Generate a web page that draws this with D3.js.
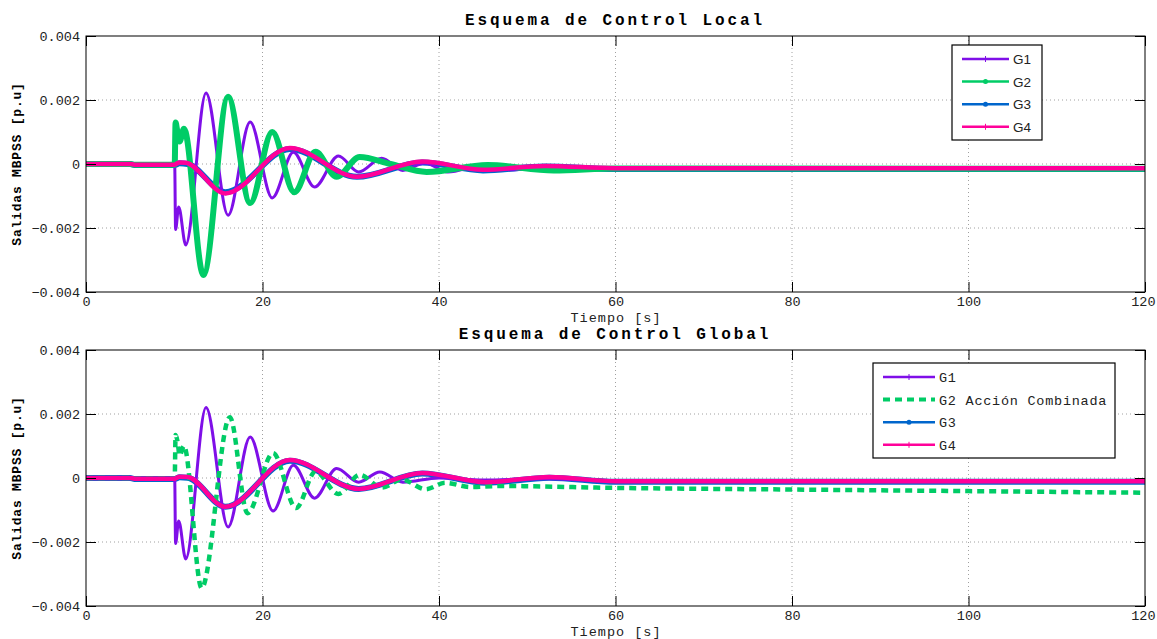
<!DOCTYPE html>
<html>
<head>
<meta charset="utf-8">
<script src="https://d3js.org/d3.v7.min.js"></script>
<style>
  body { margin: 0; background: #fff; }
  svg { display: block; }
</style>
</head>
<body>
<div id="chart"></div>
<script>
// ---- data (time [s], salida [p.u]) ----
var xTicks = [0, 20, 40, 60, 80, 100, 120];
var yTicks = [-0.004, -0.002, 0, 0.002, 0.004];
var yTickLabels = ["\u22120.004", "\u22120.002", "0", "0.002", "0.004"];

var g1Local = [[0,0],[5,0],[5.5,-0.00002],[10.05,-0.00002],[10.15,-0.00205],[10.5,-0.00134],[11.3,-0.00253],
  [13.6,0.00222],[16.1,-0.0016],[18.6,0.00131],[21.1,-0.00106],[23.5,0.00037],[25.9,-0.00072],
  [28.6,0.00025],[30.9,-0.00025],[33.5,0.00018],[35.9,-0.0002],[38.4,0.00003],[41,-0.00025],
  [45,-0.00003],[48,-0.00018],[53,-0.0001],[60,-0.00014],[120,-0.00013]];
var g2Local = [[0,0],[5,0],[5.5,-0.00002],[10.05,-0.00002],[10.15,0.0013],[10.3,0.0011],[10.6,0.0007],[11.1,0.0011],
  [13.3,-0.00347],[16.1,0.0021],[18.6,-0.00122],[21.1,0.001],[23.6,-0.00088],[26.0,0.00038],
  [28.4,-0.0004],[31.0,0.00022],[34.5,0.0],[38.6,-0.00025],[45.5,-0.00003],[53,-0.0002],
  [60,-0.00014],[120,-0.00015]];
var g3Local = [[0,0],[5,0],[5.5,-0.00003],[10,-0.00003],[10.6,0.00002],[11.5,0.0],[15.8,-0.00088],
  [23.1,0.00047],[30.7,-0.0004],[38.1,0.00005],[45,-0.0002],[52,-0.00008],[60,-0.00016],[120,-0.00016]];
var g4Local = [[0,0],[5,0],[5.5,-0.00002],[10,-0.00002],[10.6,0.00005],[11.3,0.00004],[15.8,-0.00092],
  [23.1,0.0005],[30.7,-0.0004],[38.1,0.00008],[45,-0.00018],[52,-0.00006],[60,-0.00013],[120,-0.00013]];

var g1Global = [[0,0],[5,0],[5.5,-0.00002],[10.05,-0.00002],[10.15,-0.00205],[10.5,-0.00134],[11.3,-0.00253],
  [13.6,0.0022],[16.1,-0.00153],[18.6,0.00128],[21.2,-0.00103],[23.5,0.0004],[25.9,-0.00063],
  [28.4,0.0003],[30.9,-0.00013],[33.3,0.00019],[35.9,-0.00013],[40,0.0],[45,-0.00006],
  [52,-0.00002],[60,-0.0001],[120,-0.0001]];
var g2Global = [[0,0],[5,0],[5.5,-0.00002],[10.05,-0.00002],[10.15,0.00134],[10.4,0.0011],[10.6,0.0007],[11.1,0.001],
  [13.1,-0.00344],[16.3,0.0019],[18.3,-0.0011],[21.2,0.00078],[23.8,-0.00094],[26,0.0002],
  [28.6,-0.0005],[31,0.0001],[33.5,-0.0003],[35.8,-0.00005],[38.5,-0.00035],[40.7,-0.00015],
  [43.5,-0.00028],[47,-0.00025],[60,-0.00031],[80,-0.00036],[100,-0.00041],[120,-0.00046]];
var g3Global = [[0,0],[5,0],[5.5,-0.00003],[10,-0.00003],[10.6,0.00002],[11.5,0.00001],[15.8,-0.0009],
  [23.1,0.00054],[30.9,-0.00034],[38.1,0.00014],[45.3,-0.00015],[52.5,0.00001],[60,-0.00012],[120,-0.00012]];
var g4Global = [[0,0],[5,0],[5.5,-0.00002],[10,-0.00002],[10.6,0.00004],[11.5,0.00003],[15.8,-0.0009],
  [23.1,0.00056],[30.9,-0.00034],[38.1,0.00016],[45.3,-0.00013],[52.5,0.00003],[60,-0.0001],[120,-0.0001]];

var colors = { g1: "#7f0fe8", g2: "#00cc66", g3: "#0066cc", g4: "#ff0099" };

var width = 1157, height = 639;
var svg = d3.select("#chart").append("svg")
  .attr("width", width)
  .attr("height", height);

var mono = "'Liberation Mono', 'Courier New', monospace";

function drawPanel(top, bottom, title, series, legendItems, legendBox, legendFont, legendSpacing) {
  var x = d3.scaleLinear().domain([0, 120]).range([86, 1145]);
  var y = d3.scaleLinear().domain([-0.004, 0.004]).range([bottom, top]);
  var g = svg.append("g");
  var clipId = "clip" + top;

  g.append("clipPath").attr("id", clipId)
    .append("rect").attr("x", 86).attr("y", top).attr("width", 1059).attr("height", bottom - top);

  // grid
  g.selectAll(".vgrid").data(xTicks.slice(1, -1)).enter().append("line")
    .attr("x1", function(d){ return x(d); }).attr("x2", function(d){ return x(d); })
    .attr("y1", top).attr("y2", bottom)
    .attr("stroke", "#a0a0a0").attr("stroke-width", 1).attr("stroke-dasharray", "1,3");
  g.selectAll(".hgrid").data(yTicks.slice(1, -1)).enter().append("line")
    .attr("x1", 86).attr("x2", 1145)
    .attr("y1", function(d){ return y(d); }).attr("y2", function(d){ return y(d); })
    .attr("stroke", "#a0a0a0").attr("stroke-width", 1).attr("stroke-dasharray", "1,3");

  // series
  var line = d3.line()
    .x(function(d){ return x(d[0]); })
    .y(function(d){ return y(d[1]); })
    .curve(d3.curveMonotoneX);
  var plot = g.append("g").attr("clip-path", "url(#" + clipId + ")");
  series.forEach(function(s) {
    plot.append("path")
      .datum(s.data)
      .attr("d", line)
      .attr("fill", "none")
      .attr("stroke", s.color)
      .attr("stroke-width", s.width)
      .attr("stroke-dasharray", s.dash || null)
      .attr("stroke-linejoin", "round");
  });

  // box and ticks
  g.append("rect").attr("x", 86).attr("y", top).attr("width", 1059).attr("height", bottom - top)
    .attr("fill", "none").attr("stroke", "#000").attr("stroke-width", 1);
  var axB = d3.axisBottom(x).tickValues(xTicks).tickSizeInner(-10).tickSizeOuter(0).tickPadding(4);
  var axT = d3.axisTop(x).tickValues(xTicks).tickSizeInner(-10).tickSizeOuter(0).tickFormat("");
  var axL = d3.axisLeft(y).tickValues(yTicks).tickSizeInner(-10).tickSizeOuter(0).tickPadding(6)
    .tickFormat(function(d, i){ return yTickLabels[i]; });
  var axR = d3.axisRight(y).tickValues(yTicks).tickSizeInner(-10).tickSizeOuter(0).tickFormat("");
  [[axB, "translate(0," + bottom + ")"], [axT, "translate(0," + top + ")"],
   [axL, "translate(86,0)"], [axR, "translate(1145,0)"]].forEach(function(a, k) {
    var ag = g.append("g").attr("transform", a[1]).call(a[0]);
    ag.select(".domain").remove();
    ag.selectAll("line").attr("stroke", "#000");
    ag.selectAll("text").attr("font-family", mono).attr("font-size", "13.5px").attr("fill", "#222");
    if (k === 0) {
      // last x label sits against the right edge
      ag.selectAll("text").filter(function(d){ return d === 120; }).attr("text-anchor", "end").attr("dx", 10);
    }
  });

  // labels
  g.append("text").attr("x", 615).attr("y", top - 11)
    .attr("text-anchor", "middle").attr("font-family", mono).attr("font-weight", "bold")
    .attr("font-size", "16px").attr("letter-spacing", "2.9px").text(title);
  g.append("text").attr("x", 616).attr("y", bottom + 30)
    .attr("text-anchor", "middle").attr("font-family", mono)
    .attr("font-size", "13.5px").attr("letter-spacing", "1px").attr("fill", "#222").text("Tiempo [s]");
  g.append("text")
    .attr("transform", "translate(21," + ((top + bottom) / 2) + ") rotate(-90)")
    .attr("text-anchor", "middle").attr("font-family", mono).attr("font-weight", "bold")
    .attr("font-size", "13px").attr("letter-spacing", "0.8px").text("Salidas MBPSS [p.u]");

  // legend
  var lg = g.append("g");
  lg.append("rect").attr("x", legendBox.x).attr("y", legendBox.y)
    .attr("width", legendBox.w).attr("height", legendBox.h)
    .attr("fill", "#fff").attr("stroke", "#000").attr("stroke-width", 1.2);
  legendItems.forEach(function(item, i) {
    var yy = legendBox.y + 14 + i * 22.6;
    lg.append("line")
      .attr("x1", legendBox.x + 10).attr("x2", legendBox.x + legendBox.lineLen + 10)
      .attr("y1", yy).attr("y2", yy)
      .attr("stroke", item.color).attr("stroke-width", item.dash ? 4 : 2.5)
      .attr("stroke-dasharray", item.dash || null);
    if (item.marker === "dot") {
      lg.append("circle").attr("cx", legendBox.x + 10 + legendBox.lineLen / 2).attr("cy", yy)
        .attr("r", 2.5).attr("fill", item.color);
    } else if (item.marker === "plus") {
      lg.append("line").attr("x1", legendBox.x + 10 + legendBox.lineLen / 2)
        .attr("x2", legendBox.x + 10 + legendBox.lineLen / 2)
        .attr("y1", yy - 3).attr("y2", yy + 3).attr("stroke", item.color).attr("stroke-width", 1);
    }
    lg.append("text").attr("x", legendBox.x + legendBox.lineLen + 14).attr("y", yy + 5)
      .attr("font-family", legendFont).attr("font-size", "13.5px").attr("fill", "#222")
      .attr("letter-spacing", legendSpacing)
      .text(item.label);
  });
}

drawPanel(36, 292, "Esquema de Control Local", [
  { data: g3Local, color: colors.g3, width: 6 },
  { data: g1Local, color: colors.g1, width: 3 },
  { data: g2Local, color: colors.g2, width: 6 },
  { data: g4Local, color: colors.g4, width: 4.5 }
], [
  { label: "G1", color: colors.g1, marker: "plus" },
  { label: "G2", color: colors.g2, marker: "dot" },
  { label: "G3", color: colors.g3, marker: "dot" },
  { label: "G4", color: colors.g4, marker: "plus" }
], { x: 952, y: 45, w: 90, h: 95, lineLen: 47 }, "'Liberation Sans', Arial, sans-serif", "0px");

drawPanel(350, 606, "Esquema de Control Global", [
  { data: g3Global, color: colors.g3, width: 6 },
  { data: g1Global, color: colors.g1, width: 3 },
  { data: g2Global, color: colors.g2, width: 4.5, dash: "7,5" },
  { data: g4Global, color: colors.g4, width: 4.5 }
], [
  { label: "G1", color: colors.g1, marker: "plus" },
  { label: "G2 Acci\u00f3n Combinada", color: colors.g2, dash: "7,5" },
  { label: "G3", color: colors.g3, marker: "dot" },
  { label: "G4", color: colors.g4, marker: "plus" }
], { x: 873, y: 363, w: 242, h: 95, lineLen: 52 }, mono, "0.75px");
</script>
</body>
</html>
